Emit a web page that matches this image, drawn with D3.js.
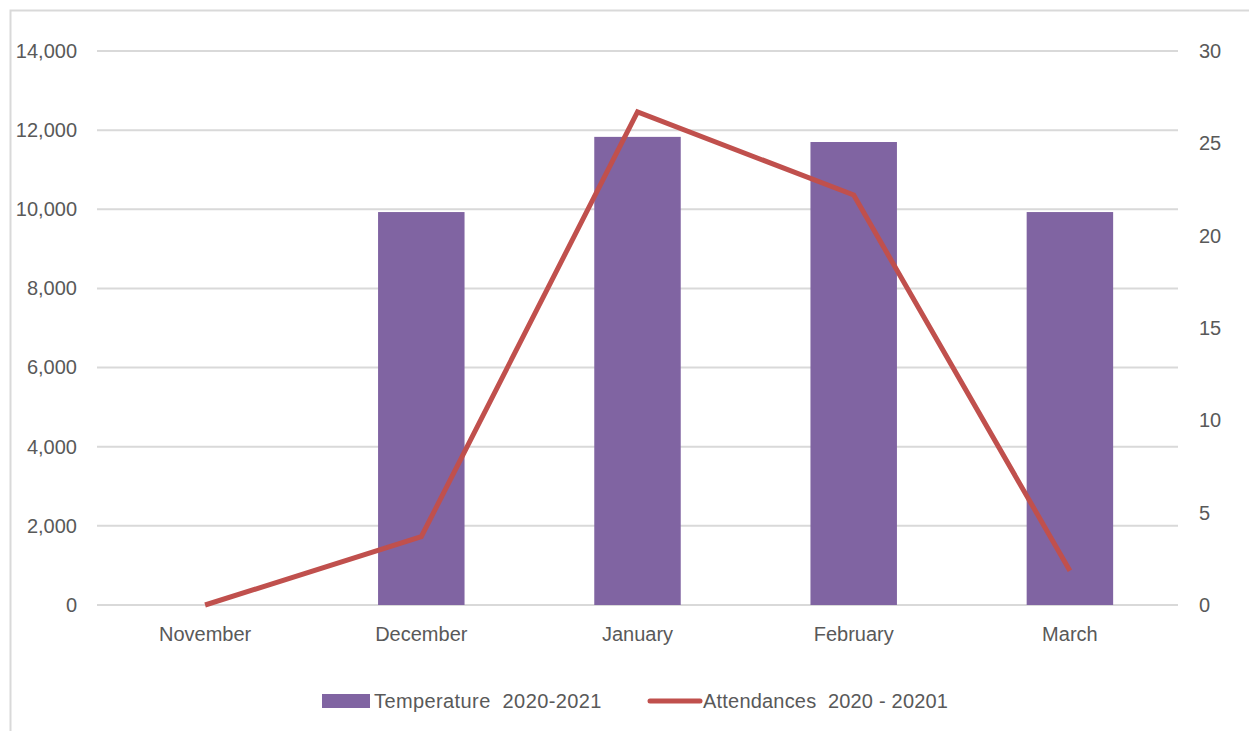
<!DOCTYPE html>
<html>
<head>
<meta charset="utf-8">
<script src="https://cdn.jsdelivr.net/npm/d3@7"></script>
<style>
  body { margin: 0; background: #fff; }
  text { font-family: "Liberation Sans", Arial, sans-serif; fill: #595959; }
</style>
</head>
<body>
<svg id="chart" width="1249" height="731"></svg>
<script>
// data
var months = ["November", "December", "January", "February", "March"];
var temperature = [0, 9930, 11830, 11700, 9930];
var attendances = [0, 3.7, 26.7, 22.2, 1.85];
var leftTicks = [0, 2000, 4000, 6000, 8000, 10000, 12000, 14000];
var rightTicks = [0, 5, 10, 15, 20, 25, 30];
var seriesNames = ["Temperature  2020-2021", "Attendances  2020 - 20201"];

var svg = d3.select("#chart"),
    margin = { top: 51, right: 71, bottom: 126, left: 97 },
    width = +svg.attr("width") - margin.left - margin.right,
    height = +svg.attr("height") - margin.top - margin.bottom;

// chart frame
svg.append("rect")
    .attr("x", 10.5).attr("y", 10.5)
    .attr("width", 1260).attr("height", 760)
    .attr("fill", "none")
    .attr("stroke", "#d9d9d9")
    .attr("stroke-width", 2);

var g = svg.append("g")
    .attr("transform", "translate(" + margin.left + "," + margin.top + ")");

var x = d3.scaleBand().domain(months).range([0, width]).paddingInner(0).paddingOuter(0);
var yL = d3.scaleLinear().domain([0, 14000]).range([height, 0]);
var yR = d3.scaleLinear().domain([0, 30]).range([height, 0]);

// gridlines
g.append("g")
    .selectAll("line")
    .data(leftTicks)
    .enter().append("line")
    .attr("x1", 0).attr("x2", width)
    .attr("y1", function(d) { return yL(d); })
    .attr("y2", function(d) { return yL(d); })
    .attr("stroke", "#d9d9d9")
    .attr("stroke-width", 2);

// left axis
var axL = g.append("g")
    .call(d3.axisLeft(yL).tickValues(leftTicks).tickSize(0).tickPadding(20).tickFormat(d3.format(",")));
axL.select(".domain").remove();
axL.selectAll("text").style("font-size", "20px").attr("font-family", null);

// right axis
var axR = g.append("g")
    .attr("transform", "translate(" + width + ",0)")
    .call(d3.axisRight(yR).tickValues(rightTicks).tickSize(0).tickPadding(21));
axR.select(".domain").remove();
axR.selectAll("text").style("font-size", "20px").attr("font-family", null);

// bottom axis
var axB = g.append("g")
    .attr("transform", "translate(0," + height + ")")
    .call(d3.axisBottom(x).tickSize(0).tickPadding(22));
axB.select(".domain").remove();
axB.selectAll("text").style("font-size", "20px").attr("font-family", null);

// bars
var barW = x.bandwidth() * 0.4;
g.selectAll(".bar")
    .data(months)
    .enter().append("rect")
    .attr("class", "bar")
    .attr("x", function(d) { return x(d) + (x.bandwidth() - barW) / 2; })
    .attr("width", barW)
    .attr("y", function(d, i) { return yL(temperature[i]); })
    .attr("height", function(d, i) { return height - yL(temperature[i]); })
    .style("fill", "#8064a2");

// line
var line = d3.line()
    .x(function(d, i) { return x(months[i]) + x.bandwidth() / 2; })
    .y(function(d) { return yR(d); });

g.append("path")
    .datum(attendances)
    .attr("d", line)
    .attr("fill", "none")
    .attr("stroke", "#c0504d")
    .attr("stroke-width", 5)
    .attr("stroke-linejoin", "miter");

// legend
var legend = svg.append("g").attr("transform", "translate(0,701)");
legend.append("rect")
    .attr("x", 322).attr("y", -7)
    .attr("width", 48).attr("height", 14)
    .style("fill", "#8064a2");
legend.append("text")
    .attr("x", 374).attr("y", 0).attr("dy", "0.35em")
    .style("font-size", "20px")
    .style("letter-spacing", "0.4px")
    .style("white-space", "pre")
    .text(seriesNames[0]);
legend.append("line")
    .attr("x1", 650).attr("x2", 700)
    .attr("y1", 0).attr("y2", 0)
    .attr("stroke", "#c0504d")
    .attr("stroke-width", 5)
    .attr("stroke-linecap", "round");
legend.append("text")
    .attr("x", 703).attr("y", 0).attr("dy", "0.35em")
    .style("font-size", "20px")
    .style("letter-spacing", "0.2px")
    .style("white-space", "pre")
    .text(seriesNames[1]);
</script>
</body>
</html>
